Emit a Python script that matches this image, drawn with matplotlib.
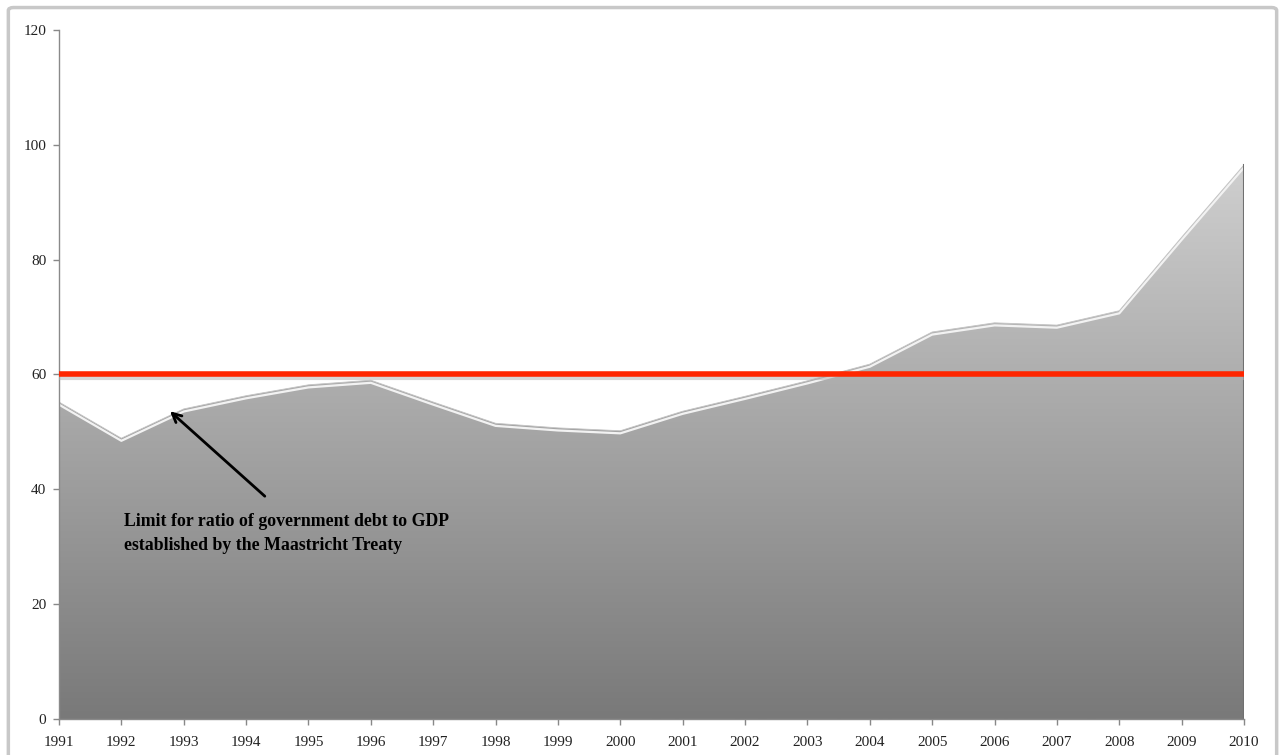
import matplotlib
matplotlib.use("Agg")
import matplotlib.pyplot as plt
import numpy as np
from matplotlib.patches import Polygon, FancyBboxPatch
from matplotlib.colors import LinearSegmentedColormap

# Government debt as % of GDP, 1991-2010
years = list(range(1991, 2011))
debt_ratio = [55.2, 48.9, 54.0, 56.3, 58.2, 59.0, 55.2, 51.5, 50.7, 50.2,
              53.6, 56.2, 58.9, 61.8, 67.4, 69.0, 68.6, 71.1, 83.9, 96.5]
maastricht_limit = 60
y_ticks = [0, 20, 40, 60, 80, 100, 120]

plt.rcParams["font.family"] = ["Liberation Serif", "DejaVu Serif"]

fig = plt.figure(figsize=(12.85, 7.55), dpi=100)
ax = fig.add_axes([0.0459, 0.0477, 0.9222, 0.9126])

# outer frame
frame = FancyBboxPatch((0.0065, -0.05), 0.987, 1.04, boxstyle="round,pad=0,rounding_size=0.004",
                       transform=fig.transFigure, facecolor="none", edgecolor="#c8c8c8",
                       linewidth=2.5, zorder=0)
fig.patches.append(frame)

x0, x1 = years[0], years[-1]
ax.set_xlim(x0, x1)
ax.set_ylim(0, 120)

# gradient-filled area, light at top, dark at bottom
cmap = LinearSegmentedColormap.from_list("greys", ["#797979", "#e4e4e4"])
grad = np.linspace(0, 1, 256).reshape(-1, 1)
img = ax.imshow(grad, extent=[x0, x1, 0, 120], origin="lower", cmap=cmap,
                aspect="auto", zorder=1)
verts = [(x0, 0)] + list(zip(years, debt_ratio)) + [(x1, 0)]
clip = Polygon(verts, closed=True, transform=ax.transData)
img.set_clip_path(clip)

# soft bevel along the top edge
ax.plot(years, np.array(debt_ratio) - 0.45, color="#f2f2f2", lw=1.6, zorder=2,
        solid_joinstyle="round")
ax.plot(years, debt_ratio, color="#c4c4c4", lw=0.6, zorder=2)
ax.plot([x1, x1], [0, debt_ratio[-1]], color="#707070", lw=1.5, zorder=2)

# Maastricht limit
ax.axhline(maastricht_limit - 0.6, color="#b0b0b0", lw=3, alpha=0.5, zorder=3)
ax.axhline(maastricht_limit, color="#ff2600", lw=4, zorder=4)

ax.annotate("", xy=(1992.78, 53.6), xytext=(1994.3, 38.8),
            arrowprops=dict(arrowstyle="->", color="black", lw=2,
                            shrinkA=0, shrinkB=0, mutation_scale=16),
            zorder=5)
ax.text(1992.04, 35.8,
        "Limit for ratio of government debt to GDP\nestablished by the Maastricht Treaty",
        fontsize=12.8, fontweight="bold", ha="left", va="top", linespacing=1.5,
        zorder=5)

ax.set_xticks(years)
ax.set_xticklabels([str(y) for y in years])
ax.set_yticks(y_ticks)
ax.tick_params(axis="both", colors="#888888", labelcolor="#222222", labelsize=11,
               length=4, width=1)
ax.tick_params(axis="y", pad=5)
ax.tick_params(axis="x", pad=8)

for s in ["top", "right"]:
    ax.spines[s].set_visible(False)
for s in ["left", "bottom"]:
    ax.spines[s].set_color("#8a8a8a")
    ax.spines[s].set_linewidth(1)

fig.savefig("out.png", dpi=100)
